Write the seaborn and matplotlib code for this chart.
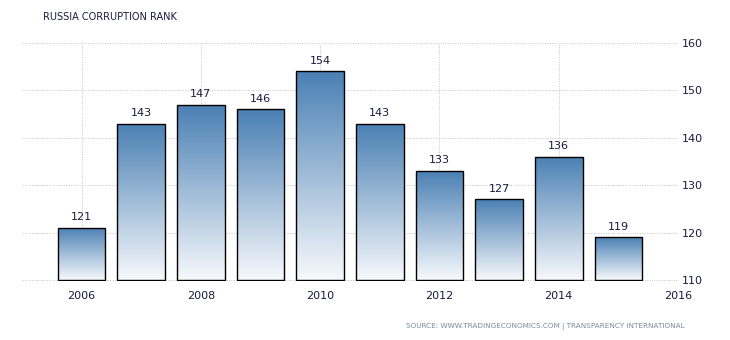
import numpy as np
import pandas as pd
import matplotlib
matplotlib.use("Agg")
import matplotlib.pyplot as plt
import seaborn as sns
from matplotlib.colors import LinearSegmentedColormap

years = [2006, 2007, 2008, 2009, 2010, 2011, 2012, 2013, 2014, 2015]
ranks = [121, 143, 147, 146, 154, 143, 133, 127, 136, 119]
x_ticks = [2006, 2008, 2010, 2012, 2014, 2016]
y_ticks = [110, 120, 130, 140, 150, 160]
title = "RUSSIA CORRUPTION RANK"
source = "SOURCE: WWW.TRADINGECONOMICS.COM | TRANSPARENCY INTERNATIONAL"

sns.set_style("white")
plt.rcParams['font.family'] = ['DejaVu Sans']

fig = plt.figure(figsize=(7.3, 3.4), dpi=100)
ax = fig.add_axes([22/730, (340-281)/340, (678-22)/730, (281-43)/340])

df = pd.DataFrame({"year": years, "rank": ranks})
sns.barplot(data=df, x="year", y="rank", native_scale=True, width=0.8,
            color="#4a82b6", edgecolor="black", linewidth=1.0, ax=ax, zorder=3)

ax.set_xlim(2005, 2016)
ax.set_ylim(110, 160)

base = 110
cmap = LinearSegmentedColormap.from_list("g", ["#f7f9fc", "#4a80b4"])
grad = np.linspace(0, 1, 256).reshape(-1, 1)
for p in ax.patches:
    x0 = p.get_x()
    w = p.get_width()
    top = p.get_y() + p.get_height()
    p.set_y(base)
    p.set_height(top - base)
    p.set_facecolor("none")
    im = ax.imshow(grad, cmap=cmap, origin="lower", aspect="auto",
                   extent=[x0, x0 + w, base, top], zorder=2.5)
    im.set_clip_path(p)
    ax.text(x0 + w / 2, top + 1.2, f"{int(round(top))}", ha="center", va="bottom",
            fontsize=8, color="#1a1a40", zorder=4)

ax.set_xlim(2005, 2016)
ax.set_ylim(109.8, 160)
ax.set_xticks(x_ticks)
ax.set_xticklabels([str(t) for t in x_ticks])
ax.set_yticks(y_ticks)
ax.yaxis.tick_right()
ax.set_xlabel("")
ax.set_ylabel("")
ax.tick_params(axis="x", length=4, color="#cccccc", labelsize=8, labelcolor="#1a1a40", pad=3)
ax.tick_params(axis="y", length=0, labelsize=8, labelcolor="#1a1a40", pad=3)
ax.grid(True, color="#c4c4c4", linestyle=(0, (1, 1.5)), linewidth=0.7, zorder=0)
ax.set_axisbelow(True)
for s in ax.spines.values():
    s.set_visible(False)

fig.text(43/730, 1 - 17/340, title, fontsize=7, color="#1a1a40", va="center", ha="left")
fig.text(685/730, 1 - 326/340, source, fontsize=5.2, color="#7a8aa0", va="center", ha="right")

fig.savefig("out.png", dpi=100)
